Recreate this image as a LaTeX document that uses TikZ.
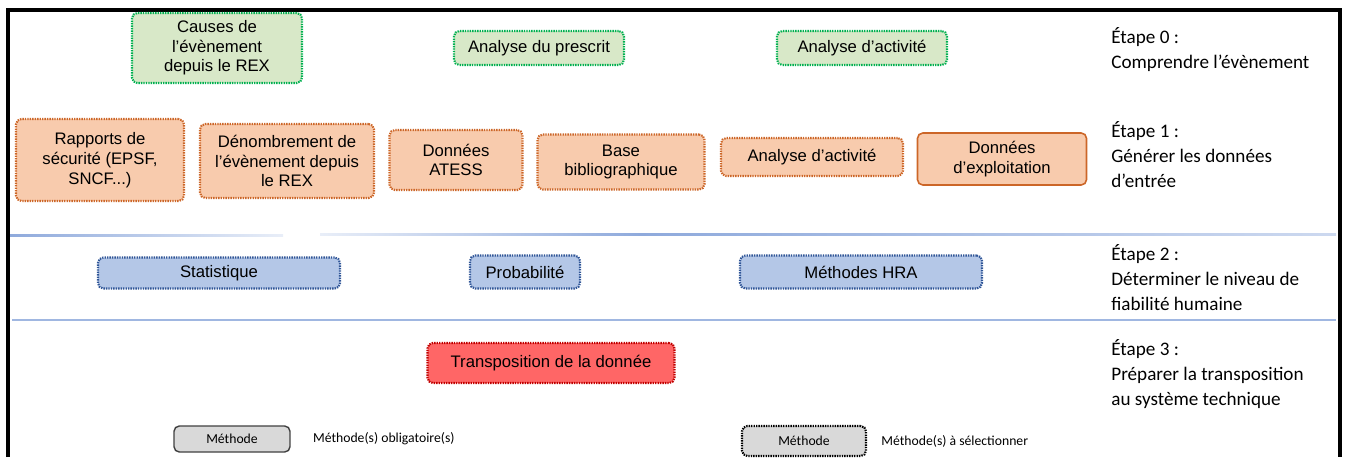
\documentclass[tikz,border=0pt]{standalone}
\usepackage{fontspec}
\setmainfont{Liberation Sans}
\newfontfamily\calibri{Carlito}
\usetikzlibrary{positioning}
\definecolor{etgreen}{RGB}{0,176,80}
\definecolor{etgreenfill}{RGB}{216,232,200}
\definecolor{etorange}{RGB}{204,102,40}
\definecolor{etorangefill}{RGB}{248,203,173}
\definecolor{etblue}{RGB}{47,85,151}
\definecolor{etbluefill}{RGB}{180,199,231}
\definecolor{etred}{RGB}{192,0,0}
\definecolor{etredfill}{RGB}{255,102,102}
\definecolor{etline}{RGB}{143,170,220}
\definecolor{etgray}{RGB}{217,217,217}

\begin{document}
\begin{tikzpicture}[
    x=0.02cm, y=-0.02cm,
    box/.style={rectangle, rounded corners=3pt, line width=1.2pt, dash pattern=on 0.8pt off 0.6pt, align=center, inner sep=1pt, font=\fontsize{9.5}{11.2}\selectfont},
    comprendre/.style={box, draw=etgreen, fill=etgreenfill},
    entree/.style={box, draw=etorange, fill=etorangefill},
    fiabilite/.style={box, draw=etblue, fill=etbluefill},
    transpo/.style={box, draw=etred, fill=etredfill},
    legbox/.style={rectangle, rounded corners=3pt, fill=etgray, minimum width=2.4cm, minimum height=0.55cm, font=\calibri\fontsize{7.8}{9}\selectfont},
    legtext/.style={inner sep=0pt, font=\calibri\fontsize{7.8}{9}\selectfont},
    etape/.style={anchor=north west, inner sep=0pt, align=left, font=\calibri\fontsize{10.9}{14.2}\selectfont},
    separ/.style={etline, line width=1.1pt}
]
    \useasboundingbox (0,0) rectangle (1347,457);

    % Frame
    \draw[line width=1.8pt] (8,457) -- (8,10) -- (1340,10) -- (1340,457);

    % Etape 0
    \node[comprendre, minimum width=3.4cm, minimum height=1.4cm] (causes) at (217,48) {Causes de\\l'évènement\\depuis le REX};
    \node[comprendre, minimum width=3.4cm, minimum height=0.68cm] (prescrit) at (539,48) {Analyse du prescrit};
    \node[comprendre, minimum width=3.4cm, minimum height=0.68cm] (activitea) at (862,48) {Analyse d'activité};

    % Etape 1
    \node[entree, minimum width=3.36cm, minimum height=1.64cm] (rapports) at (100,160) {Rapports de\\sécurité (EPSF,\\SNCF...)};
    \node[entree, minimum width=3.48cm, minimum height=1.48cm] (denombrement) at (287,161) {Dénombrement de\\l'évènement depuis\\le REX};
    \node[entree, minimum width=2.66cm, minimum height=1.2cm] (atess) at (456,160) {Données\\ATESS};
    \node[entree, minimum width=3.34cm, minimum height=1.1cm] (biblio) at (621,162) {Base\\bibliographique};
    \node[entree, minimum width=3.64cm, minimum height=0.76cm] (activiteb) at (812,157) {Analyse d'activité};
    \node[entree, solid, line width=0.9pt, minimum width=3.38cm, minimum height=1.04cm] (exploitation) at (1002,159) {Données\\d'exploitation};

    % Separators
    \shade[left color=etline, right color=etline!20] (10,234.5) rectangle (283,236.5);
    \shade[left color=etline!20, right color=etline] (320,233.5) rectangle (640,235.5);
    \shade[left color=etline, right color=etline!45] (640,233.5) rectangle (1336,235.5);
    \draw[separ, etline!85] (12,320) -- (1336,320);

    % Etape 2
    \node[fiabilite, minimum width=4.84cm, minimum height=0.62cm] (statistique) at (219,273) {Statistique};
    \node[fiabilite, minimum width=2.2cm, minimum height=0.66cm] (probabilite) at (525,272) {Probabilité};
    \node[fiabilite, minimum width=4.84cm, minimum height=0.66cm] (hra) at (861,272) {Méthodes HRA};

    % Etape 3
    \node[transpo, minimum width=4.94cm, minimum height=0.8cm] (transposition) at (551,363) {Transposition de la donnée};

    % Etapes
    \node[etape] (etapea) at (1111,27) {Étape 0 :\\Comprendre l’évènement};
    \node[etape] (etapeb) at (1111,121) {Étape 1 :\\Générer les données\\d’entrée};
    \node[etape] (etapec) at (1111,244) {Étape 2 :\\Déterminer le niveau de\\fiabilité humaine};
    \node[etape] (etaped) at (1111,339) {Étape 3 :\\Préparer la transposition\\au système technique};

    % Legende
    \node[legbox, draw=black!75, line width=0.8pt, minimum width=2.32cm, minimum height=0.52cm] (legoblig) at (232,439) {Méthode};
    \node[legtext, right=0.44cm of legoblig] (txtoblig) {Méthode(s) obligatoire(s)};
    \node[legbox, draw=black, line width=1.2pt, dash pattern=on 0.8pt off 0.6pt, minimum width=2.48cm, minimum height=0.6cm] (legselect) at (804,441) {Méthode};
    \node[legtext, right=0.28cm of legselect] (txtselect) {Méthode(s) à sélectionner};
\end{tikzpicture}
\end{document}
